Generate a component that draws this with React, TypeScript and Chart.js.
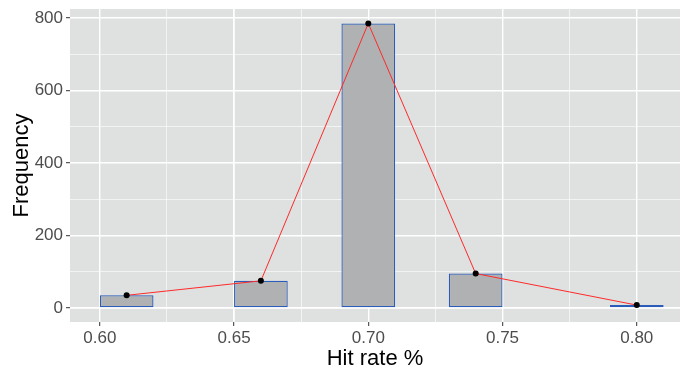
import React, { useEffect, useRef } from "react";
import { Chart, registerables } from "chart.js";

Chart.register(...registerables);

const binCenters = [0.61, 0.66, 0.7, 0.74, 0.8];
const frequencies = [35, 75, 785, 95, 8];
const xTickStep = 0.05;
const xMinorStep = 0.025;
const yTickStep = 200;
const yMinorStep = 100;
const xRange = [0.5889, 0.8161];
const yRange = [-38.6, 824.8];

const FONT = "'Liberation Sans', Arial, sans-serif";

const panelBg = {
  id: "panelBg",
  beforeDraw(chart: any) {
    const { ctx, chartArea } = chart;
    ctx.save();
    ctx.fillStyle = "#dfe0e0";
    ctx.fillRect(chartArea.left, chartArea.top, chartArea.right - chartArea.left, chartArea.bottom - chartArea.top);
    ctx.restore();
  },
};

export default function App() {
  const ref = useRef<HTMLCanvasElement | null>(null);
  useEffect(() => {
    if (!ref.current) return;
    const barData = binCenters.map((x, i) => ({ x, y: frequencies[i] }));
    const chart = new Chart(ref.current, {
      type: "bar",
      data: {
        datasets: [
          {
            type: "line",
            data: barData,
            borderColor: "#ff2a2a",
            borderWidth: 1,
            pointRadius: 3,
            pointBackgroundColor: "#000",
            pointBorderWidth: 0,
            order: 0,
            xAxisID: "x",
            yAxisID: "y",
          } as any,
          {
            type: "bar",
            data: barData,
            backgroundColor: "#afb1b2",
            borderColor: "#2a5cb8",
            borderWidth: 1.3,
            borderSkipped: false,
            barPercentage: 1,
            categoryPercentage: 0.5,
            order: 1,
            xAxisID: "x",
            yAxisID: "y",
          } as any,
        ],
      },
      options: {
        animation: false,
        responsive: false,
        maintainAspectRatio: false,
        layout: { padding: { top: 9, right: 1, left: 0, bottom: 0 } },
        plugins: { legend: { display: false }, tooltip: { enabled: false } },
        scales: {
          x2: {
            type: "linear",
            position: "bottom",
            min: xRange[0],
            max: xRange[1],
            offset: false,
            border: { display: false },
            grid: { color: "rgba(255,255,255,0.75)", lineWidth: 0.8, drawTicks: false, offset: false },
            ticks: { display: false, stepSize: xMinorStep, includeBounds: false },
            afterFit: (s: any) => { s.height = 0; },
          },
          x: {
            type: "linear",
            position: "bottom",
            min: xRange[0],
            max: xRange[1],
            offset: false,
            border: { display: false },
            grid: { color: "#ffffff", lineWidth: 1.4, tickLength: 4, tickColor: "#333333", tickWidth: 1, offset: false },
            ticks: {
              stepSize: xTickStep,
              includeBounds: false,
              padding: 2,
              color: "#4d4d4d",
              font: { family: FONT, size: 17 },
              maxRotation: 0,
              callback: (v: any) => Number(v).toFixed(2),
            },
            title: {
              display: true,
              text: "Hit rate %",
              color: "#000",
              font: { family: FONT, size: 22, lineHeight: 1 },
              padding: { top: 0, bottom: 0 },
            },
            afterFit: (s: any) => { s.height = 48; },
          },
          y2: {
            type: "linear",
            position: "left",
            min: yRange[0],
            max: yRange[1],
            border: { display: false },
            grid: { color: "rgba(255,255,255,0.75)", lineWidth: 0.8, drawTicks: false },
            ticks: { display: false, stepSize: yMinorStep, includeBounds: false },
            afterFit: (s: any) => { s.width = 0; },
          },
          y: {
            type: "linear",
            position: "left",
            min: yRange[0],
            max: yRange[1],
            border: { display: false },
            grid: { color: "#ffffff", lineWidth: 1.4, tickLength: 4, tickColor: "#333333", tickWidth: 1 },
            ticks: {
              stepSize: yTickStep,
              includeBounds: false,
              padding: 3,
              color: "#4d4d4d",
              font: { family: FONT, size: 17, lineHeight: 1 },
            },
            title: {
              display: true,
              text: "Frequency",
              color: "#000",
              font: { family: FONT, size: 22, lineHeight: 1.2 },
              padding: { top: 9, bottom: 0 },
            },
            afterFit: (s: any) => { s.width = 70; s.paddingTop = 0; s.paddingBottom = 0; },
          },
        },
      } as any,
      plugins: [panelBg],
    });
    return () => chart.destroy();
  }, []);
  return (
    <div style={{ position: "fixed", left: 0, top: 0, width: 684, height: 370, background: "#fff" }}>
      <canvas ref={ref} width={684} height={370} style={{ width: 684, height: 370, display: "block" }} />
    </div>
  );
}
